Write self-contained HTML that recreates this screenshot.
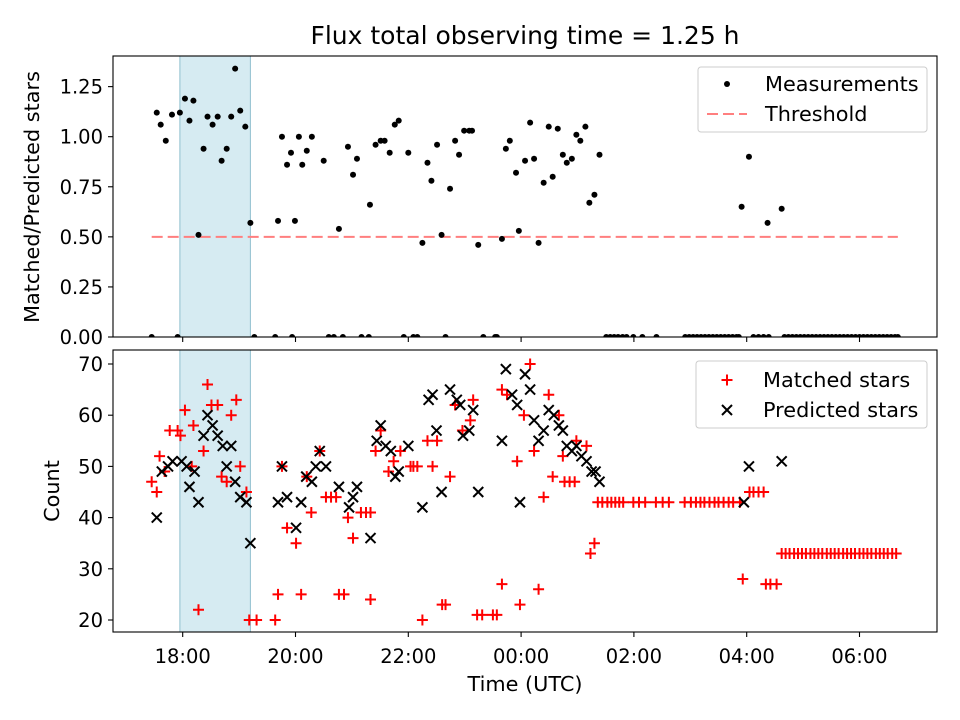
<!DOCTYPE html>
<html><head><meta charset="utf-8"><style>
html,body{margin:0;padding:0;background:#fff;overflow:hidden}
svg{display:block;font-family:"DejaVu Sans","Liberation Sans",sans-serif}
</style></head><body>
<svg id="fig" width="960" height="720" viewBox="0 0 960 720">
<rect width="960" height="720" fill="#fff"/>
<g id="g"></g>
</svg>
<script>
// ---- data ----
const measTimes=[17.54,17.61,17.70,17.81,17.95,18.04,18.12,18.19,18.28,18.37,18.44,18.53,18.62,18.69,18.78,18.86,18.93,19.02,19.11,19.20,19.69,19.76,19.85,19.92,19.99,20.06,20.12,20.20,20.29,20.50,20.77,20.93,21.02,21.09,21.32,21.42,21.51,21.58,21.67,21.76,21.83,22.00,22.25,22.34,22.41,22.51,22.59,22.74,22.83,22.90,22.99,23.08,23.13,23.24,23.66,23.73,23.80,23.91,23.96,24.07,24.16,24.23,24.31,24.40,24.49,24.56,24.65,24.74,24.81,24.90,24.98,25.05,25.14,25.21,25.30,25.39,27.91,28.04,28.37,28.62];
const measRatios=[1.12,1.06,0.98,1.11,1.12,1.19,1.08,1.18,0.51,0.94,1.10,1.06,1.10,0.88,0.94,1.10,1.34,1.13,1.05,0.57,0.58,1.00,0.86,0.92,0.58,1.00,0.86,0.93,1.00,0.88,0.54,0.95,0.81,0.89,0.66,0.96,0.98,0.98,0.92,1.06,1.08,0.92,0.47,0.87,0.78,0.96,0.51,0.74,0.98,0.91,1.03,1.03,1.03,0.46,0.49,0.94,0.98,0.82,0.53,0.88,1.07,0.89,0.47,0.77,1.05,0.80,1.04,0.91,0.87,0.89,1.01,0.98,1.05,0.67,0.71,0.91,0.65,0.90,0.57,0.64];
const zeroTimes=[17.45,17.91,19.27,19.64,19.94,20.59,20.68,20.84,21.17,21.30,21.92,22.09,22.16,22.66,23.33,23.54,23.57,25.51,25.58,25.65,25.72,25.80,25.87,25.99,26.15,26.40,26.91,26.98,27.05,27.12,27.19,27.26,27.33,27.40,27.47,27.54,27.61,27.68,27.75,27.82,27.86,28.12,28.21,28.30,28.39,28.67,28.74,28.81,28.88,28.95,29.02,29.09,29.16,29.23,29.30,29.37,29.44,29.51,29.58,29.65,29.72,29.79,29.86,29.93,30.00,30.07,30.14,30.21,30.28,30.35,30.42,30.49,30.56,30.63,30.68];
const threshold=0.5;
const thresholdRange=[17.45,30.68];
const spanRange=[17.95,19.2];
const matchedTimes=[18.44,18.04,18.19,17.77,17.91,17.96,17.59,17.68,17.45,17.54,18.51,18.62,18.95,18.86,18.37,18.16,18.69,18.78,19.02,19.13,18.28,19.18,19.31,19.64,19.69,20.10,19.76,19.85,20.01,20.28,20.20,20.43,20.54,20.63,20.72,20.93,21.02,21.16,21.25,21.33,20.77,20.86,21.33,21.51,21.42,21.65,24.16,23.66,23.75,24.49,23.15,22.83,23.10,22.96,24.67,24.05,24.98,25.16,24.74,24.23,23.93,24.56,24.77,24.86,24.95,24.40,22.74,22.43,22.04,22.09,22.16,22.34,22.51,21.86,21.74,25.30,25.23,22.25,22.60,22.66,23.22,23.31,23.50,23.57,23.66,23.98,24.31,
25.36,25.44,25.53,25.60,25.67,25.74,25.81,25.99,26.09,26.20,26.39,26.51,26.62,26.90,27.01,27.10,27.18,27.25,27.34,27.43,27.50,27.59,27.68,27.76,27.88,28.05,28.12,28.21,28.30,27.93,28.34,28.42,28.53,
28.62,28.69,28.76,28.84,28.91,28.98,29.05,29.13,29.20,29.27,29.34,29.42,29.49,29.56,29.63,29.71,29.78,29.85,29.92,30.00,30.07,30.14,30.21,30.29,30.36,30.43,30.50,30.58,30.65];
const matchedCounts=[66,61,58,57,57,56,52,49,47,45,62,62,63,60,53,50,48,47,50,45,22,20,20,20,25,25,50,38,35,41,48,53,44,44,44,40,36,41,41,41,25,25,24,57,53,49,70,65,64,64,63,62,59,57,60,60,55,54,52,53,51,48,47,47,47,44,48,50,50,50,50,55,55,53,51,35,33,20,23,23,21,21,21,21,27,23,26,
43,43,43,43,43,43,43,43,43,43,43,43,43,43,43,43,43,43,43,43,43,43,43,43,43,45,45,45,45,28,27,27,27,
33,33,33,33,33,33,33,33,33,33,33,33,33,33,33,33,33,33,33,33,33,33,33,33,33,33,33,33,33];
const predTimes=[17.54,17.63,17.74,17.82,17.98,18.07,18.12,18.21,18.28,18.37,18.44,18.53,18.62,18.71,18.86,18.78,18.93,19.02,19.13,19.20,19.69,19.76,19.85,20.10,20.01,20.19,20.29,20.36,20.54,20.43,20.77,20.95,21.02,21.09,21.33,21.51,21.44,21.60,21.69,22.00,21.77,21.83,22.25,22.50,22.36,22.43,22.59,22.74,22.86,22.92,23.15,22.97,23.08,23.24,23.66,23.73,23.84,23.93,23.98,24.07,24.16,24.23,24.31,24.40,24.49,24.58,24.67,24.74,24.81,24.90,24.98,25.07,25.16,25.25,25.32,25.39,27.95,28.04,28.62];
const predCounts=[40,49,50,51,51,50,46,49,43,56,60,58,56,54,54,50,47,44,43,35,43,50,44,43,38,48,47,50,50,53,46,42,44,46,36,58,55,54,53,54,48,49,42,57,63,64,45,65,63,62,61,56,57,45,55,69,64,62,43,68,65,59,55,57,61,60,58,57,54,53,54,52,51,49,49,47,43,50,51];
const xTickVals=[18,20,22,24,26,28,30];
const xTickLabels=["18:00","20:00","22:00","00:00","02:00","04:00","06:00"];
const topTickVals=[0,0.25,0.5,0.75,1.0,1.25];
const topTickLabels=["0.00","0.25","0.50","0.75","1.00","1.25"];
const botTickVals=[20,30,40,50,60,70];
const botTickLabels=["20","30","40","50","60","70"];

// ---- scales ----
const X=t=>182.7+(t-18)*56.4;
const YT=v=>337-v*200.3;
const YB=v=>364+(70-v)*5.12;
const AX={l:113,r:937};
const TOPB={t:56,b:337}, BOTB={t:350,b:632};
const NS="http://www.w3.org/2000/svg";
const gRoot=document.getElementById('g');
function mk(tag,attrs,parent){const e=document.createElementNS(NS,tag);for(const k in attrs)e.setAttribute(k,attrs[k]);(parent||gRoot).appendChild(e);return e;}

function panel(P,name){
  const grp=mk('g',{});
  
  
  const c=mk('clipPath',{id:name+'-clip'},grp);
  mk('rect',{x:AX.l,y:P.t,width:AX.r-AX.l,height:P.b-P.t},c);
  const plot=mk('g',{'clip-path':'url(#'+name+'-clip)'},grp);
  const sp=mk('rect',{x:X(spanRange[0]),y:P.t,width:X(spanRange[1])-X(spanRange[0]),height:P.b-P.t,fill:'#add8e6','fill-opacity':0.5,stroke:'#8fbfcf','stroke-width':1},plot);
  
  
  return {grp,plot};
}
const topP=panel(TOPB,'top-axes');
const botP=panel(BOTB,'bottom-axes');

const th=mk('line',{x1:X(thresholdRange[0]),x2:X(thresholdRange[1]),y1:YT(threshold),y2:YT(threshold),stroke:'#ff7f7f','stroke-width':2,'stroke-dasharray':'11,5'},topP.plot);


measTimes.forEach((t,i)=>{
  const c=mk('circle',{cx:X(t),cy:YT(measRatios[i]),r:3,fill:'#000'},topP.plot);
  
  
});
zeroTimes.forEach(t=>{
  const c=mk('circle',{cx:X(t),cy:YT(0),r:3,fill:'#000'},topP.plot);
  
  
});
matchedTimes.forEach((t,i)=>{
  const x=X(t),y=YB(matchedCounts[i]),s=5.5;
  const p=mk('path',{d:`M${x-s},${y}H${x+s}M${x},${y-s}V${y+s}`,stroke:'#ff0000','stroke-width':2,fill:'none'},botP.plot);
  
  
});
predTimes.forEach((t,i)=>{
  const x=X(t),y=YB(predCounts[i]),s=5;
  const p=mk('path',{d:`M${x-s},${y-s}L${x+s},${y+s}M${x-s},${y+s}L${x+s},${y-s}`,stroke:'#000','stroke-width':2,fill:'none'},botP.plot);
  
  
});

[[TOPB,topP.grp,YT,topTickVals,topTickLabels,false],[BOTB,botP.grp,YB,botTickVals,botTickLabels,true]].forEach(([P,grp,Y,tv,tl,showX])=>{
  const f=mk('rect',{x:AX.l,y:P.t,width:AX.r-AX.l,height:P.b-P.t,fill:'none',stroke:'#000','stroke-width':1.1},grp);
  
  
  tv.forEach((v,i)=>{
    const y=Y(v);
    mk('line',{x1:AX.l-5,x2:AX.l,y1:y,y2:y,stroke:'#000','stroke-width':1.1},grp);
    const tx=mk('text',{x:AX.l-10,y:y+7,'text-anchor':'end','font-size':'19.5px',fill:'#000'},grp);
    tx.textContent=tl[i];
    
    
  });
  xTickVals.forEach((v,i)=>{
    const x=X(v);
    mk('line',{x1:x,x2:x,y1:P.b,y2:P.b+5,stroke:'#000','stroke-width':1.1},grp);
    if(showX){
      const tx=mk('text',{x:x,y:P.b+31,'text-anchor':'middle','font-size':'19.5px',fill:'#000'},grp);
      tx.textContent=xTickLabels[i];
      
      
    }
  });
});

// titles & legends
const svgEl=document.getElementById('fig');
const title=mk('text',{x:525,y:44,'text-anchor':'middle','font-size':'25px'},svgEl);
title.textContent='Flux total observing time = 1.25 h';


const xl=mk('text',{x:525,y:691,'text-anchor':'middle','font-size':'20.8px'},svgEl);
xl.textContent='Time (UTC)';


const yl1=mk('text',{x:0,y:0,'text-anchor':'middle','font-size':'20.8px',transform:'translate(39,197) rotate(-90)'},svgEl);
yl1.textContent='Matched/Predicted stars';


const yl2=mk('text',{x:0,y:0,'text-anchor':'middle','font-size':'20.8px',transform:'translate(59,491) rotate(-90)'},svgEl);
yl2.textContent='Count';


const l1=mk('g',{},svgEl);


mk('rect',{x:698,y:67,width:229,height:65,rx:3,fill:'#fff','fill-opacity':0.8,stroke:'#ccc'},l1);
mk('circle',{cx:727,cy:84,r:3,fill:'#000'},l1);
const t1=mk('text',{x:765,y:91,'font-size':'20.8px'},l1);t1.textContent='Measurements';


mk('line',{x1:707,x2:747,y1:114,y2:114,stroke:'#ff7f7f','stroke-width':2,'stroke-dasharray':'11,5'},l1);
const t2=mk('text',{x:765,y:121,'font-size':'20.8px'},l1);t2.textContent='Threshold';


const l2=mk('g',{},svgEl);


mk('rect',{x:696,y:361,width:231,height:67,rx:3,fill:'#fff','fill-opacity':0.8,stroke:'#ccc'},l2);
mk('path',{d:'M721.5,380H732.5M727,374.5V385.5',stroke:'#f00','stroke-width':2},l2);
const t3=mk('text',{x:763,y:387,'font-size':'20.8px'},l2);t3.textContent='Matched stars';


mk('path',{d:'M722,405L732,415M722,415L732,405',stroke:'#000','stroke-width':2},l2);
const t4=mk('text',{x:763,y:417,'font-size':'20.8px'},l2);t4.textContent='Predicted stars';


</script>
</body></html>
